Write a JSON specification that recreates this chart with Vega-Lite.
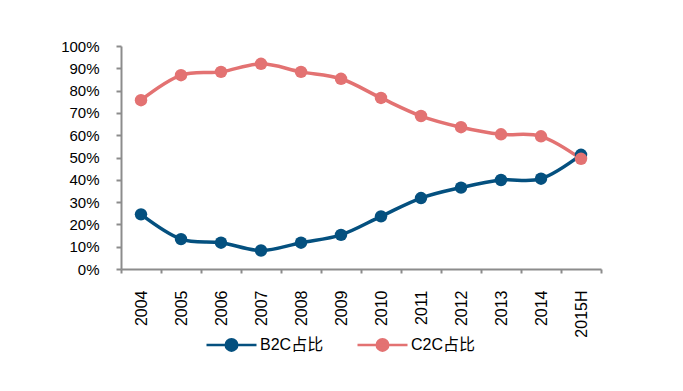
{
  "$schema": "https://vega.github.io/schema/vega-lite/v6.json",
  "width": 480,
  "height": 223,
  "autosize": {"type": "none"},
  "padding": {"left": 121, "top": 46, "right": 82, "bottom": 122},
  "background": "white",
  "config": {
    "view": {"stroke": null},
    "font": "Liberation Sans, Noto Sans CJK SC",
    "axis": {"labelFont": "Liberation Sans", "labelColor": "#000000", "domainColor": "#8c8c8c", "tickColor": "#8c8c8c", "domainWidth": 2, "tickWidth": 2, "grid": false, "title": null}
  },
  "data": {
    "values": [
      {"year": "2004", "type": "B2C占比", "value": 0.245},
      {"year": "2005", "type": "B2C占比", "value": 0.134},
      {"year": "2006", "type": "B2C占比", "value": 0.118},
      {"year": "2007", "type": "B2C占比", "value": 0.083},
      {"year": "2008", "type": "B2C占比", "value": 0.118},
      {"year": "2009", "type": "B2C占比", "value": 0.153},
      {"year": "2010", "type": "B2C占比", "value": 0.236},
      {"year": "2011", "type": "B2C占比", "value": 0.318},
      {"year": "2012", "type": "B2C占比", "value": 0.365},
      {"year": "2013", "type": "B2C占比", "value": 0.399},
      {"year": "2014", "type": "B2C占比", "value": 0.405},
      {"year": "2015H", "type": "B2C占比", "value": 0.512},
      {"year": "2004", "type": "C2C占比", "value": 0.757},
      {"year": "2005", "type": "C2C占比", "value": 0.869},
      {"year": "2006", "type": "C2C占比", "value": 0.884},
      {"year": "2007", "type": "C2C占比", "value": 0.92},
      {"year": "2008", "type": "C2C占比", "value": 0.884},
      {"year": "2009", "type": "C2C占比", "value": 0.853},
      {"year": "2010", "type": "C2C占比", "value": 0.767},
      {"year": "2011", "type": "C2C占比", "value": 0.686},
      {"year": "2012", "type": "C2C占比", "value": 0.636},
      {"year": "2013", "type": "C2C占比", "value": 0.604},
      {"year": "2014", "type": "C2C占比", "value": 0.595},
      {"year": "2015H", "type": "C2C占比", "value": 0.494}
    ]
  },
  "encoding": {
    "x": {
      "field": "year", "type": "ordinal",
      "scale": {"type": "band", "paddingInner": 0, "paddingOuter": 0},
      "axis": {"labelAngle": -90, "labelFontSize": 16, "tickSize": 4, "tickBand": "extent", "labelPadding": 17, "labelAlign": "right", "labelBaseline": "middle"}
    },
    "y": {
      "field": "value", "type": "quantitative",
      "scale": {"domain": [0, 1], "nice": false},
      "axis": {"format": ".0%", "values": [0, 0.1, 0.2, 0.3, 0.4, 0.5, 0.6, 0.7, 0.8, 0.9, 1], "labelFontSize": 15, "tickSize": 5, "labelPadding": 17}
    },
    "color": {
      "field": "type", "type": "nominal",
      "scale": {"domain": ["B2C占比", "C2C占比"], "range": ["#04507F", "#E37272"]},
      "legend": {
        "orient": "none", "legendX": 84, "legendY": 272, "direction": "horizontal",
        "title": null, "padding": 0,
        "symbolType": "M-1,0L1,0M-0.23,0A0.23,0.23,0,1,1,0.23,0A0.23,0.23,0,1,1,-0.23,0Z",
        "symbolSize": 2500, "symbolStrokeWidth": 2.5,
        "labelFontSize": 16, "labelFont": "Liberation Sans, Noto Sans CJK SC", "labelColor": "#000000",
        "labelOffset": 2, "columnPadding": 28
      }
    }
  },
  "layer": [
    {"mark": {"type": "line", "interpolate": "cardinal", "strokeWidth": 3.5}},
    {"mark": {"type": "point", "filled": true, "size": 155, "opacity": 1}}
  ]
}
